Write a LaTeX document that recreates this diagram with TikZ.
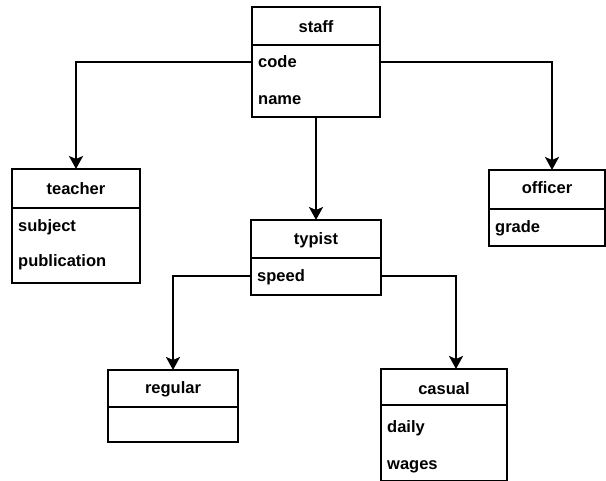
\documentclass[tikz,border=0pt]{standalone}
\usepackage{fontspec}
\setmainfont{Liberation Sans}
\usetikzlibrary{arrows.meta}
\begin{document}
\begin{tikzpicture}[x=1pt,y=-1pt,
  cls/.style={draw, line width=2.2pt, anchor=north west, inner sep=0pt, outer sep=0pt},
  divl/.style={line width=2.4pt},
  hdr/.style={anchor=base, inner sep=0pt, font=\fontsize{16.5}{18}\selectfont\bfseries},
  attr/.style={anchor=base west, inner sep=0pt, text height=12pt, text depth=0pt, font=\fontsize{16.5}{18}\selectfont\bfseries},
  conn/.style={line width=2pt, -{Stealth[length=13pt, width=14pt, inset=3pt]}}
]
\useasboundingbox (0,0) rectangle (606,481);

% staff
\node[cls, minimum width=128pt, minimum height=110pt] (staff) at (252,7) {};
\draw[divl] (staff.west |- 0,45) -- (staff.east |- 0,45);
\node[hdr] (staffh) at (316,33) {staff};
\node[attr] (code) at (258,68) {code};
\node[attr] (name) at (258,105) {name};

% teacher
\node[cls, minimum width=128pt, minimum height=114pt] (teacher) at (12,169) {};
\draw[divl] (teacher.west |- 0,208) -- (teacher.east |- 0,208);
\node[hdr] (teacherh) at (76,195) {teacher};
\node[attr] (subject) at (18,232) {subject};
\node[attr] (publication) at (18,267) {publication};

% officer
\node[cls, minimum width=116pt, minimum height=76pt] (officer) at (489,170) {};
\draw[divl] (officer.west |- 0,209) -- (officer.east |- 0,209);
\node[hdr] (officerh) at (547,194) {officer};
\node[attr] (grade) at (495,233) {grade};

% typist
\node[cls, minimum width=130pt, minimum height=75pt] (typist) at (251,220) {};
\draw[divl] (typist.west |- 0,258) -- (typist.east |- 0,258);
\node[hdr] (typisth) at (316,245) {typist};
\node[attr] (speed) at (257,282) {speed};

% regular
\node[cls, minimum width=130pt, minimum height=72pt] (regular) at (108,370) {};
\draw[divl] (regular.west |- 0,407) -- (regular.east |- 0,407);
\node[hdr] (regularh) at (173,394) {regular};

% casual
\node[cls, minimum width=126pt, minimum height=112pt] (casual) at (381,369) {};
\draw[divl] (casual.west |- 0,405) -- (casual.east |- 0,405);
\node[hdr] (casualh) at (444,395) {casual};
\node[attr] (daily) at (387,432) {daily};
\node[attr] (wages) at (387,469) {wages};

% connectors
\draw[conn] (staff.west |- code) -| (teacher.north);
\draw[conn] (staff.east |- code) -| ([xshift=5pt]officer.north);
\draw[conn] (staff.south) -- (typist.north);
\draw[conn] (typist.west |- speed) -| (regular.north);
\draw[conn] (typist.east |- speed) -| ([xshift=12pt]casual.north);
\end{tikzpicture}
\end{document}
